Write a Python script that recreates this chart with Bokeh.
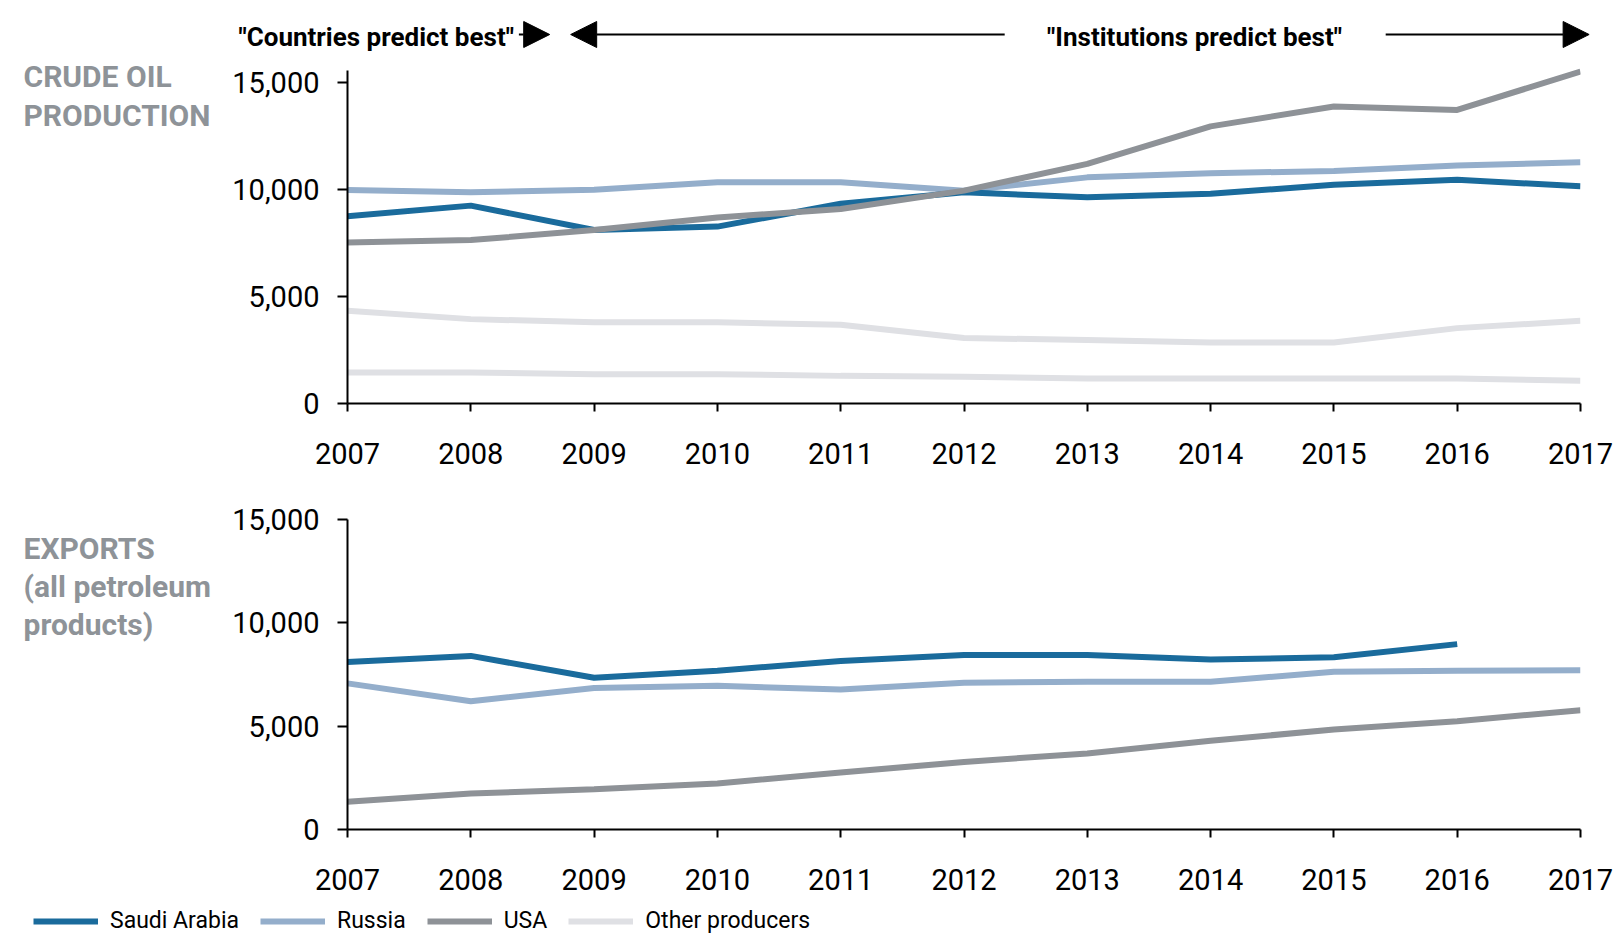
import numpy as np
from bokeh.plotting import figure
from bokeh.layouts import column, row
from bokeh.models import (Range1d, FixedTicker, NumeralTickFormatter, Label, Arrow,
                          NormalHead, Legend, LegendItem)
from bokeh.embed import file_html
from bokeh.resources import INLINE

# ---------------- data ----------------
years = [2007, 2008, 2009, 2010, 2011, 2012, 2013, 2014, 2015, 2016, 2017]

prod_saudi = [8740, 9240, 8100, 8260, 9330, 9860, 9630, 9790, 10220, 10450, 10140]
prod_russia = [9970, 9860, 9980, 10330, 10330, 9940, 10560, 10750, 10860, 11110, 11260]
prod_usa = [7520, 7630, 8100, 8690, 9080, 9940, 11190, 12940, 13870, 13710, 15500]
prod_other_a = [4330, 3940, 3790, 3790, 3680, 3060, 2960, 2850, 2850, 3520, 3860]
prod_other_b = [1450, 1450, 1370, 1370, 1290, 1250, 1170, 1170, 1170, 1170, 1060]

exp_saudi = [8110, 8400, 7340, 7680, 8150, 8440, 8440, 8230, 8330, 8970, None]
exp_russia = [7070, 6210, 6850, 6950, 6780, 7100, 7150, 7150, 7630, 7680, 7710]
exp_usa = [1340, 1740, 1950, 2230, 2760, 3270, 3680, 4290, 4840, 5240, 5770]

y_ticks = [0, 5000, 10000, 15000]
series_names = ["Saudi Arabia", "Russia", "USA", "Other producers"]
title_prod = ["CRUDE OIL", "PRODUCTION"]
title_exp = ["EXPORTS", "(all petroleum", "products)"]
note_left = "\"Countries predict best\""
note_right = "\"Institutions predict best\""
# annotation anchors on the year axis
note_left_end = 2008.35
note_right_center = 2013.87
arrow_spans = [(2008.39, 2008.64), (2012.33, 2008.81), (2015.42, 2017.07)]

# ---------------- style / layout ----------------
FONT = "Roboto"
C_SAUDI = "#1a6b9c"
C_RUSSIA = "#94aecb"
C_USA = "#8e9297"
C_OTHER = "#dfe0e4"
C_TITLE = "#8e9398"
LW = 6

W = 1615
LEFT_W = 222
MAIN_W = W - LEFT_W
FRAME_L, FRAME_R = 347, 1580          # page x of 2007 and 2017
PPY = (FRAME_R - FRAME_L) / 10.0
STRIP_H = 60
ROW1_TOP, ROW1_H = 60, 428
F1_TOP, F1_AXIS_TOP, F1_BOT = 60, 70, 403     # page y: frame top, axis top, zero line
ROW2_TOP, ROW2_H = 488, 417
F2_TOP, F2_BOT = 519, 829
LEG_H = 31

Y1_AXIS_END = 15550
Y1_END = Y1_AXIS_END * (F1_BOT - F1_TOP) / (F1_BOT - F1_AXIS_TOP)


def to_arr(v):
    return np.array([np.nan if a is None else a for a in v], dtype=float)


def blank(width, height, xr, yr, top=0, bottom=0):
    p = figure(width=width, height=height, x_range=xr, y_range=yr,
               x_axis_location=None, y_axis_location=None,
               output_backend="svg", toolbar_location=None,
               min_border_left=0, min_border_right=0,
               min_border_top=top, min_border_bottom=bottom)
    p.xgrid.visible = False
    p.ygrid.visible = False
    p.outline_line_color = None
    return p


def style(p, ybounds):
    p.xgrid.visible = False
    p.ygrid.visible = False
    p.outline_line_color = None
    xa = p.xaxis[0]
    xa.ticker = FixedTicker(ticks=years)
    xa.major_label_overrides = {y: str(y) for y in years}
    xa.axis_line_width = 2
    xa.axis_line_color = "black"
    xa.major_tick_line_width = 2
    xa.major_tick_line_color = "black"
    xa.major_tick_in = 0
    xa.major_tick_out = 8
    xa.minor_tick_line_color = None
    xa.major_label_text_font = FONT
    xa.major_label_text_font_size = "29px"
    xa.major_label_text_color = "black"
    xa.major_label_standoff = 31
    ya = p.yaxis[0]
    ya.bounds = ybounds
    ya.ticker = FixedTicker(ticks=y_ticks)
    ya.formatter = NumeralTickFormatter(format="0,0")
    ya.axis_line_width = 2
    ya.axis_line_color = "black"
    ya.major_tick_line_width = 2
    ya.major_tick_line_color = "black"
    ya.major_tick_in = 0
    ya.major_tick_out = 10
    ya.minor_tick_line_color = None
    ya.major_label_text_font = FONT
    ya.major_label_text_font_size = "29px"
    ya.major_label_text_color = "black"
    ya.major_label_standoff = 18


def side_labels(lines, baselines, row_top, row_h, f_top, f_bot):
    # frame identical to the neighbouring chart's frame; data y ~ page y
    p = blank(LEFT_W, row_h, Range1d(0, LEFT_W), Range1d(f_bot, f_top),
              top=f_top - row_top, bottom=row_top + row_h - f_bot)
    for txt, base in zip(lines, baselines):
        p.add_layout(Label(x=23, y=base, text=txt, text_font=FONT,
                           text_font_style="bold", text_font_size="30px", text_color=C_TITLE,
                           text_align="left", text_baseline="alphabetic"))
    return p


x = np.array(years, dtype=float)

# ---------------- annotation strip ----------------
strip = blank(W, STRIP_H,
              Range1d(years[0] - FRAME_L / PPY, years[-1] + (W - FRAME_R) / PPY),
              Range1d(0, STRIP_H))
strip.add_layout(Label(x=note_left_end, y=STRIP_H - 36, text=note_left,
                       text_font=FONT, text_font_style="bold", text_font_size="26px",
                       text_color="black", text_align="right", text_baseline="middle"))
strip.add_layout(Label(x=note_right_center, y=STRIP_H - 36, text=note_right,
                       text_font=FONT, text_font_style="bold", text_font_size="26px",
                       text_color="black", text_align="center", text_baseline="middle"))
for xs, xe in arrow_spans:
    strip.add_layout(Arrow(end=NormalHead(size=26, fill_color="black", line_color="black",
                                          line_width=1),
                           x_start=xs, y_start=STRIP_H - 34, x_end=xe, y_end=STRIP_H - 34,
                           line_color="black", line_width=2))

# ---------------- top panel ----------------
lab1 = side_labels(title_prod, [76, 115], ROW1_TOP, ROW1_H, F1_TOP, F1_BOT)

p1 = figure(width=MAIN_W, height=ROW1_H, x_range=Range1d(2007, 2017), y_range=Range1d(0, Y1_END),
            output_backend="svg", toolbar_location=None,
            min_border_left=FRAME_L - LEFT_W, min_border_right=W - FRAME_R,
            min_border_top=F1_TOP - ROW1_TOP, min_border_bottom=ROW1_TOP + ROW1_H - F1_BOT)
style(p1, (0, Y1_AXIS_END))
p1.line(x, to_arr(prod_other_b), line_color=C_OTHER, line_width=LW)
p1.line(x, to_arr(prod_other_a), line_color=C_OTHER, line_width=LW)
p1.line(x, to_arr(prod_russia), line_color=C_RUSSIA, line_width=LW)
p1.line(x, to_arr(prod_saudi), line_color=C_SAUDI, line_width=LW)
p1.line(x, to_arr(prod_usa), line_color=C_USA, line_width=LW)

# ---------------- bottom panel ----------------
lab2 = side_labels(title_exp, [548, 586, 624], ROW2_TOP, ROW2_H, F2_TOP, F2_BOT)

p2 = figure(width=MAIN_W, height=ROW2_H, x_range=Range1d(2007, 2017), y_range=Range1d(0, 15000),
            output_backend="svg", toolbar_location=None,
            min_border_left=FRAME_L - LEFT_W, min_border_right=W - FRAME_R,
            min_border_top=F2_TOP - ROW2_TOP, min_border_bottom=ROW2_TOP + ROW2_H - F2_BOT)
style(p2, (0, 15000))
p2.line(x, to_arr(exp_russia), line_color=C_RUSSIA, line_width=LW)
p2.line(x, to_arr(exp_usa), line_color=C_USA, line_width=LW)
p2.line(x, to_arr(exp_saudi), line_color=C_SAUDI, line_width=LW)

# ---------------- legend strip ----------------
leg = blank(W, LEG_H, Range1d(0, 1), Range1d(0, 1))
leg_colors = [C_SAUDI, C_RUSSIA, C_USA, C_OTHER]
items = []
for name, col in zip(series_names, leg_colors):
    r = leg.line(x=[np.nan], y=[np.nan], line_color=col, line_width=LW)
    items.append(LegendItem(label=name, renderers=[r]))
legend = Legend(items=items, orientation="horizontal", location=(33, 2),
                glyph_width=65, glyph_height=26, label_height=26, label_standoff=12,
                spacing=21, padding=0, margin=0, border_line_color=None,
                background_fill_alpha=0, label_text_font=FONT, label_text_font_size="23px",
                label_text_color="black")
leg.add_layout(legend)

layout = column(strip, row(lab1, p1, spacing=0), row(lab2, p2, spacing=0), leg, spacing=0)
open("out.html", "w").write(file_html(layout, INLINE))
